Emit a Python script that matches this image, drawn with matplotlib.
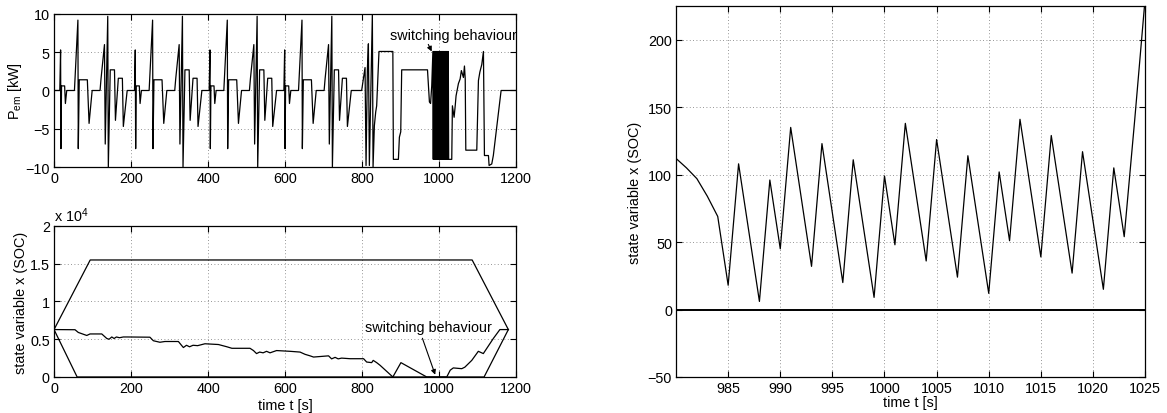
"""P_em, SOC trajectory and zoom on the switching window."""
import matplotlib
matplotlib.use("Agg")
import matplotlib.pyplot as plt
import numpy as np

plt.rcParams["font.family"] = ["Liberation Sans", "DejaVu Sans"]
plt.rcParams["font.size"] = 10.4
plt.rcParams["mathtext.fontset"] = "custom"
plt.rcParams["mathtext.rm"] = "Liberation Sans"
plt.rcParams["mathtext.it"] = "Liberation Sans:italic"

# --- P_em [kW]: one drive cycle (repeated), then the tail of the run ---
cycle_t = [0, 15, 17, 18, 19.5, 27.5, 29.5, 33, 53, 54.5, 62, 63, 65.5, 86.5,
           91, 99, 119.5, 122, 131, 133, 139.5, 141, 146, 157, 159.5, 167,
           177.5, 180, 190, 194]
cycle_p = [0, 0, 5.3, -7.6, 0.6, 0.6, -1.7, 0, 0, 1.5, 9.2, -7.6, 1.4, 1.4,
           -4.3, 0, 0, 1.5, 6.0, -7.0, 9.7, -10, 2.7, 2.7, -3.9, 1.6,
           1.6, -4.7, 0, 0]
cycle_starts = [0, 194, 388, 582]

tail_t = [799, 803.4, 807.8, 810.4, 813.9, 816.5, 819, 826.8, 828.6, 832,
          835.5, 838, 844, 880, 881.4, 894.4, 897, 900.5, 903, 970, 975,
          978, 981]
tail_p = [0, 1.5, 3.0, -9.8, 2.8, 6.1, -9.8, 10, -10, -4.6,
          -2.8, -2.0, 5.1, 5.1, -9.0, -9.0, -6.1, -5.4, 2.7, 2.7, -1.5,
          -1.7, 0.6]
# switching window: P_em jumps between the two limits every second
sw_t = list(range(984, 1025))
sw_p = [5.1, -9.0] * 20 + [5.1]
end_t = [1025, 1033, 1034.7, 1039.1, 1042, 1044.2, 1050.3, 1054.7, 1058,
         1063.3, 1066, 1068, 1069.5, 1098, 1102.3, 1106, 1111, 1115.3,
         1117.9, 1128.3, 1130, 1136.9, 1141, 1161.2, 1200]
end_p = [-9.0, -9.0, -2.0, -3.5, -2.0, -0.7, 0.9, 1.5, 2.6, 1.7, 3.2, 1.5,
         -7.8, -7.8, 1.3, 2.4, 3.4, 5.1, -8.5, -8.5, -9.8, -9.6, -8.5,
         0, 0]

# --- SOC [x 1e4] ---
soc_t = [0, 54.5, 63, 85, 93.5, 124, 137, 143, 150, 156, 162, 170, 180, 190,
         249, 258, 275, 288, 323, 331, 336, 344, 352, 361, 373, 392, 427,
         449, 462, 479, 509, 518, 526, 534, 543, 552, 561, 578, 613, 639,
         652, 665, 674, 713, 721, 730, 738, 747, 769, 804, 812, 825, 829,
         838, 847, 880, 901, 968, 1020, 1029, 1037, 1059, 1067, 1085, 1102,
         1115, 1141, 1158, 1180]
soc_x = [0.628, 0.626, 0.59, 0.55, 0.57, 0.57, 0.51, 0.50, 0.53, 0.51, 0.53,
         0.52, 0.53, 0.53, 0.527, 0.48, 0.46, 0.47, 0.47, 0.42, 0.39, 0.42,
         0.40, 0.42, 0.415, 0.44, 0.43, 0.40, 0.38, 0.38, 0.38, 0.35, 0.31,
         0.33, 0.32, 0.34, 0.32, 0.35, 0.34, 0.33, 0.30, 0.28, 0.264, 0.28,
         0.24, 0.26, 0.24, 0.25, 0.242, 0.242, 0.198, 0.19, 0.22, 0.19,
         0.154, 0.0, 0.19, 0.0, 0.0, 0.09, 0.12, 0.11, 0.13, 0.22, 0.34,
         0.31, 0.51, 0.628, 0.628]
upper_t = [0, 94, 1086, 1180]
upper_x = [0.628, 1.55, 1.55, 0.628]
lower_t = [0, 60, 1117, 1180]
lower_x = [0.628, 0.0, 0.0, 0.628]

# --- SOC in the switching window (raw units) ---
zoom_t = [980, 981, 982, 983, 984, 985, 986, 988, 989, 990, 991, 993, 994,
          996, 997, 999, 1000, 1001, 1002, 1004, 1005, 1007, 1008, 1010,
          1011, 1012, 1013, 1015, 1016, 1018, 1019, 1021, 1022, 1023, 1024,
          1025]
zoom_x = [112, 105, 97, 84, 69, 18, 108, 6, 96, 45, 135, 32, 123, 20, 111, 9,
          99, 48, 138, 36, 126, 24, 114, 12, 102, 51, 141, 39, 129, 27, 117,
          15, 105, 54, 140, 230]

LW = 0.9


def _style(ax):
    ax.tick_params(direction="in", top=True, right=True, length=4, width=0.8,
                   pad=3)
    ax.grid(True, linestyle=(0, (1, 3)), color="0.45", lw=0.6)
    for s in ax.spines.values():
        s.set_linewidth(0.9)


def _pem(ax):
    t = np.concatenate([np.array(cycle_t) + s for s in cycle_starts]
                       + [tail_t, sw_t, end_t])
    p = np.concatenate([cycle_p] * len(cycle_starts) + [tail_p, sw_p, end_p])
    ax.plot(t, p, color="black", lw=LW)
    ax.set_xlim(0, 1200); ax.set_ylim(-10, 10)
    ax.set_xticks(range(0, 1201, 200)); ax.set_yticks([-10, -5, 0, 5, 10])
    ax.set_ylabel(r"P$_{\mathrm{em}}$ [kW]", labelpad=1)
    ax.annotate("switching behaviour", xy=(981, 5.1), xytext=(873, 7.3),
                va="center", ha="left", clip_on=True,
                arrowprops=dict(arrowstyle="-|>", color="black", lw=0.8,
                                mutation_scale=7, shrinkA=0, shrinkB=0,
                                relpos=(0.29, 0.0)))
    _style(ax)


def _soc(ax):
    ax.plot(upper_t, upper_x, color="black", lw=LW)
    ax.plot(lower_t, lower_x, color="black", lw=LW)
    ax.plot(soc_t, soc_x, color="black", lw=LW)
    ax.set_xlim(0, 1200); ax.set_ylim(0, 2)
    ax.set_xticks(range(0, 1201, 200))
    ax.set_yticks([0, 0.5, 1, 1.5, 2])
    ax.set_yticklabels(["0", "0.5", "1", "1.5", "2"])
    ax.text(0.0, 1.015, r"x 10$^{4}$", transform=ax.transAxes,
            ha="left", va="bottom")
    ax.set_xlabel("time t [s]", labelpad=2)
    ax.set_ylabel("state variable x (SOC)", labelpad=1)
    ax.annotate("switching behaviour", xy=(990, 0.03), xytext=(808, 0.66),
                va="center", ha="left",
                arrowprops=dict(arrowstyle="-|>", color="black", lw=0.8,
                                mutation_scale=7, shrinkA=1, shrinkB=0,
                                relpos=(0.44, 0.0)))
    _style(ax)


def _zoom(ax):
    ax.plot(np.array(lower_t), np.array(lower_x) * 1e4, color="black", lw=1.4)
    ax.plot(zoom_t, zoom_x, color="black", lw=LW)
    ax.set_xlim(980, 1025); ax.set_ylim(-50, 225)
    ax.set_xticks(range(985, 1026, 5))
    ax.set_yticks([-50, 0, 50, 100, 150, 200])
    ax.set_xlabel("time t [s]", labelpad=0)
    ax.set_ylabel("state variable x (SOC)", labelpad=4)
    _style(ax)


def build():
    fig = plt.figure(figsize=(11.67, 4.14), dpi=100)
    ax1 = fig.add_axes([0.0463, 0.5942, 0.3959, 0.3696])
    ax2 = fig.add_axes([0.0463, 0.0870, 0.3959, 0.3647])
    ax3 = fig.add_axes([0.5793, 0.0870, 0.4019, 0.8961])
    _pem(ax1); _soc(ax2); _zoom(ax3)
    fig.savefig("out.png", dpi=100)
    plt.close(fig)


if __name__ == "__main__":
    build()
